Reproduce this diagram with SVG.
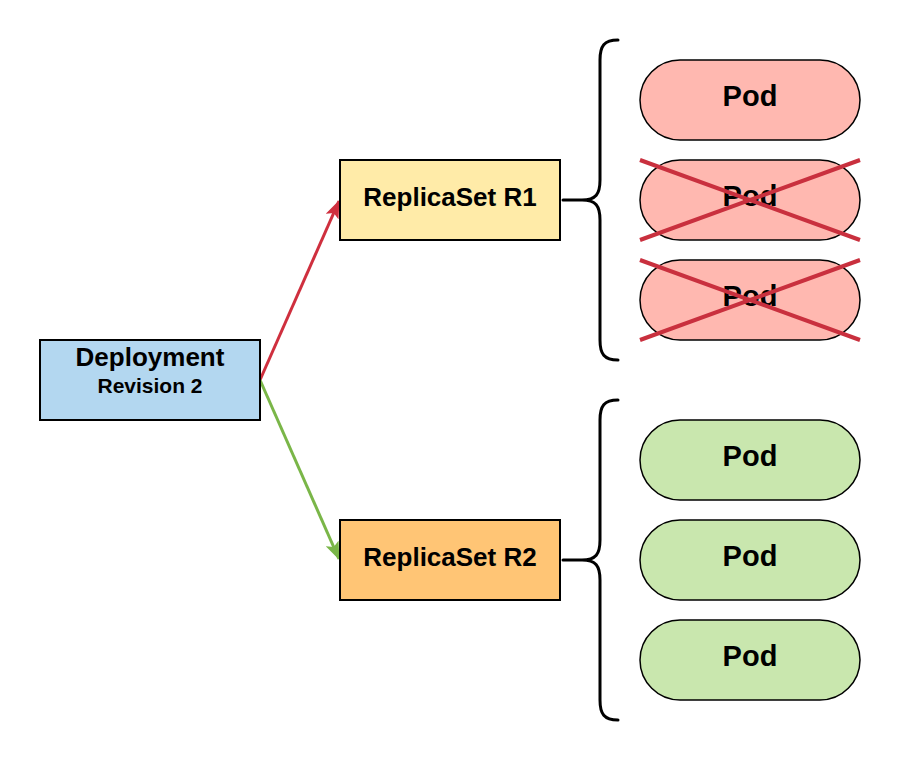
<svg xmlns="http://www.w3.org/2000/svg" width="900" height="760" viewBox="0 0 900 760">
<style>
text{font-family:"Liberation Sans",Arial,sans-serif;font-weight:bold;fill:#000;text-anchor:middle}
.box{stroke:#000;stroke-width:2}
.pod{stroke:#000;stroke-width:1.5}
.podr{fill:#ffb8b0}
.podg{fill:#c9e7ae}
.ptxt{font-size:29px}
.rtxt{font-size:26px}
.brace{fill:none;stroke:#000;stroke-width:3;stroke-linecap:round}
.x{stroke:#c9303e;stroke-width:4}
</style>
<defs>
<marker id="ar" markerWidth="18" markerHeight="14" refX="17" refY="7" orient="auto" markerUnits="userSpaceOnUse"><path d="M0,0 L18,7 L0,14 L4,7 z" fill="#cf2f3e"/></marker>
<marker id="ag" markerWidth="18" markerHeight="14" refX="17" refY="7" orient="auto" markerUnits="userSpaceOnUse"><path d="M0,0 L18,7 L0,14 L4,7 z" fill="#7ab648"/></marker>
</defs>
<rect width="900" height="760" fill="#fff"/>
<g id="connectors">
<line x1="260" y1="380" x2="339" y2="201" stroke="#cf2f3e" stroke-width="3" marker-end="url(#ar)"/>
<line x1="260" y1="380" x2="339" y2="559" stroke="#7ab648" stroke-width="3" marker-end="url(#ag)"/>
<path class="brace" d="M618,40 C604,40 600,46 600,60 L600,180 C600,194 596,200 582,200 L563,200 M582,200 C596,200 600,206 600,220 L600,340 C600,354 604,360 618,360"/>
<path class="brace" d="M618,400 C604,400 600,406 600,420 L600,540 C600,554 596,560 582,560 L563,560 M582,560 C596,560 600,566 600,580 L600,700 C600,714 604,720 618,720"/>
</g>
<g id="deployment">
<rect class="box" x="40" y="340" width="220" height="80" fill="#b3d7f0"/>
<text x="150" y="366" font-size="26">Deployment</text>
<text x="150" y="393" font-size="21">Revision 2</text>
</g>
<g id="rs1">
<rect class="box" x="340" y="160" width="220" height="80" fill="#ffeba8"/>
<text class="rtxt" x="450" y="206">ReplicaSet R1</text>
</g>
<g id="rs2">
<rect class="box" x="340" y="520" width="220" height="80" fill="#ffc575"/>
<text class="rtxt" x="450" y="566">ReplicaSet R2</text>
</g>
<g id="pod1">
<rect class="pod podr" x="640" y="60" width="220" height="80" rx="40"/>
<text class="ptxt" x="750" y="106">Pod</text>
</g>
<g id="pod2">
<rect class="pod podr" x="640" y="160" width="220" height="80" rx="40"/>
<text class="ptxt" x="750" y="206">Pod</text>
<line class="x" x1="640" y1="160" x2="860" y2="240"/>
<line class="x" x1="640" y1="240" x2="860" y2="160"/>
</g>
<g id="pod3">
<rect class="pod podr" x="640" y="260" width="220" height="80" rx="40"/>
<text class="ptxt" x="750" y="306">Pod</text>
<line class="x" x1="640" y1="260" x2="860" y2="340"/>
<line class="x" x1="640" y1="340" x2="860" y2="260"/>
</g>
<g id="pod4">
<rect class="pod podg" x="640" y="420" width="220" height="80" rx="40"/>
<text class="ptxt" x="750" y="466">Pod</text>
</g>
<g id="pod5">
<rect class="pod podg" x="640" y="520" width="220" height="80" rx="40"/>
<text class="ptxt" x="750" y="566">Pod</text>
</g>
<g id="pod6">
<rect class="pod podg" x="640" y="620" width="220" height="80" rx="40"/>
<text class="ptxt" x="750" y="666">Pod</text>
</g>
</svg>
